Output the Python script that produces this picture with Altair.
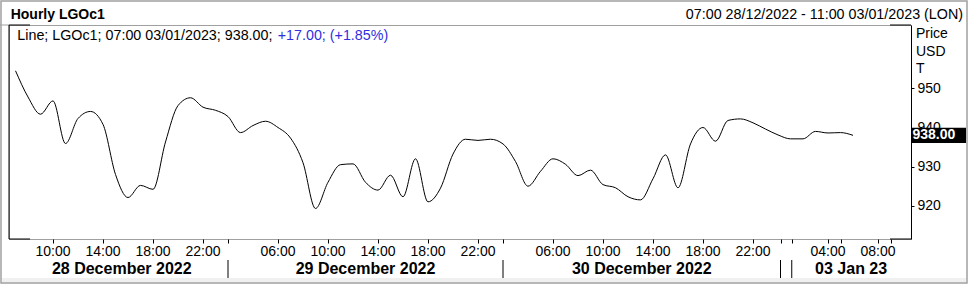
import altair as alt
import pandas as pd

# ---------------- data ----------------
# hourly closes of LGOc1, first bar 07:00 28/12/2022, last bar 07:00 03/01/2023
price = [954.5, 947.8, 943.4, 946.8, 935.9, 942.3, 944.1, 940.8, 928.0, 922.1,
         925.2, 924.2, 936.3, 945.6, 947.6, 945.2, 944.4, 942.8, 938.7, 940.5,
         941.6, 940.0, 937.3, 931.0, 919.3, 926.0, 930.5, 930.7, 926.0, 924.0,
         927.8, 922.3, 932.0, 921.0, 924.5, 933.2, 937.0, 936.7, 937.0, 935.8,
         931.3, 925.0, 928.8, 932.0, 930.6, 927.7, 929.1, 925.4, 924.6, 922.3,
         921.5, 926.9, 933.0, 924.6, 935.8, 940.0, 936.5, 941.8, 942.2, 941.2,
         939.6, 938.1, 937.1, 937.1, 939.0, 938.6, 938.7, 938.0]
bar_index = list(range(len(price)))

# x-axis: bar index of each labelled hour
tick_idx = [3, 7, 11, 15, 21, 25, 29, 33, 37, 43, 47, 51, 55, 59, 65, 69]
tick_label = ["10:00", "14:00", "18:00", "22:00",
              "06:00", "10:00", "14:00", "18:00", "22:00",
              "06:00", "10:00", "14:00", "18:00", "22:00",
              "04:00", "08:00"]
minor_idx = [66, 70]
sep_idx = [17, 39, 61.2, 62.1]
day_label = ["28 December 2022", "29 December 2022", "30 December 2022", "03 Jan 23"]
day_start = [0, 17, 39, 62.1]
day_end = [17, 39, 61.2, 71.6]

y_ticks = [920, 930, 940, 950]
unit_lines = ["Price", "USD", "T"]

title_text = "Hourly LGOc1"
range_text = "07:00 28/12/2022 - 11:00 03/01/2023 (LON)"
ric = "LGOc1"
last_time = "07:00 03/01/2023"
last_price = 938.00
change_abs = 17.00
change_pct = 1.85

# ---------------- layout ----------------
W, H = 902, 214
FONT = "Liberation Sans"
x_scale = alt.Scale(domain=[-0.52, 71.64], nice=False, zero=False)
y_scale = alt.Scale(domain=[911.5, 966.2], nice=False, zero=False)
x_axis = alt.Axis(values=tick_idx + minor_idx + sep_idx, labels=False, domain=False,
                  grid=False, ticks=True, tickSize=4, tickColor="black", title=None)
y_axis = alt.Axis(orient="right", values=y_ticks, grid=False, domain=True,
                  domainColor="black", tickColor="black", tickSize=3, labelPadding=3,
                  labelFont=FONT, labelFontSize=14, labelColor="black", title=None)


def X(field):
    return alt.X(field, type="quantitative", scale=x_scale, axis=x_axis)


def Y(field):
    return alt.Y(field, type="quantitative", scale=y_scale, axis=y_axis)


line_df = pd.DataFrame({"idx": bar_index, "price": price})
last_df = pd.DataFrame({"idx": [bar_index[-1]], "price": [price[-1]]})
tick_df = pd.DataFrame({"idx": tick_idx, "label": tick_label})
sep_df = pd.DataFrame({"idx": sep_idx})
day_df = pd.DataFrame({"label": day_label, "start": day_start, "end": day_end})
one = pd.DataFrame({"a": [0]})

frame = alt.Chart(one).mark_rect(fillOpacity=0, stroke="#a0a0a0", strokeWidth=1.5).encode(
    x=alt.value(-8), x2=alt.value(958), y=alt.value(-24), y2=alt.value(258))
band = alt.Chart(one).mark_rect(fill="#f0f0f0").encode(
    x=alt.value(-7), x2=alt.value(957), y=alt.value(253), y2=alt.value(257))
top_rule = alt.Chart(one).mark_rule(color="#a0a0a0").encode(
    x=alt.value(-9), x2=alt.value(0), y=alt.value(0))
left_rule = alt.Chart(one).mark_rule(color="black").encode(
    x=alt.value(0), y=alt.value(0), y2=alt.value(H))
corners = [
    alt.Chart(one).mark_rule(color="black").encode(x=alt.value(0), x2=alt.value(21), y=alt.value(0)),
    alt.Chart(one).mark_rule(color="black").encode(x=alt.value(0), x2=alt.value(21), y=alt.value(H)),
    alt.Chart(one).mark_rule(color="black").encode(x=alt.value(W - 21), x2=alt.value(W), y=alt.value(0)),
    alt.Chart(one).mark_rule(color="black").encode(x=alt.value(W - 21), x2=alt.value(W), y=alt.value(H)),
]

line = alt.Chart(line_df).mark_line(color="black", strokeWidth=1, interpolate="monotone").encode(
    x=X("idx"), y=Y("price"))

box = alt.Chart(last_df).mark_point(
    shape="M-1,-0.28L1,-0.28L1,0.28L-1,0.28Z", size=55 * 55, filled=True,
    color="black", opacity=1, strokeWidth=0).encode(
    x=alt.value(929.5), y=Y("price"))
box_text = alt.Chart(last_df).mark_text(
    align="left", baseline="middle", color="white", fontWeight="bold", fontSize=14, font=FONT).encode(
    x=alt.value(903.5), y=Y("price"), text=alt.Text("price:Q", format=".2f"))

hour_text = alt.Chart(tick_df).mark_text(
    baseline="alphabetic", align="center", fontSize=14, font=FONT, color="black").encode(
    x=X("idx"), y=alt.value(230.5), text="label:N")

sep_rules = alt.Chart(sep_df).mark_rule(color="black", strokeWidth=1).encode(
    x=X("idx"), y=alt.value(235), y2=alt.value(253))

day_text = alt.Chart(day_df).transform_calculate(
    idx="(datum.start + datum.end) / 2").mark_text(
    baseline="alphabetic", align="center", fontSize=16, fontWeight="bold", font=FONT, color="black").encode(
    x=X("idx"), y=alt.value(249), text="label:N")

unit_layers = [
    alt.Chart(one).mark_text(baseline="alphabetic", align="left", fontSize=14, font=FONT,
                             color="black").encode(
        x=alt.value(907), y=alt.value(13.3 + i * 17.4), text=alt.value(t))
    for i, t in enumerate(unit_lines)
]

title = alt.Chart(one).mark_text(
    baseline="alphabetic", align="left", fontSize=14, fontWeight="bold", font=FONT, color="black").encode(
    x=alt.value(1.7), y=alt.value(-6), text=alt.value(title_text))
range_lbl = alt.Chart(one).mark_text(
    baseline="alphabetic", align="right", fontSize=14.3, font=FONT, color="black").encode(
    x=alt.value(954), y=alt.value(-6.5), text=alt.value(range_text))

info_black = f"Line; {ric}; {last_time}; {last_price:.2f}; "
info_blue = f"{change_abs:+.2f}; ({change_pct:+.2f}%)"
info1 = alt.Chart(one).mark_text(
    baseline="alphabetic", align="left", fontSize=14.3, font=FONT, color="black").encode(
    x=alt.value(8.3), y=alt.value(15), text=alt.value(info_black))
info2 = alt.Chart(one).mark_text(
    baseline="alphabetic", align="left", fontSize=14.3, font=FONT, color="#2f2fe0").encode(
    x=alt.value(268.7), y=alt.value(15), text=alt.value(info_blue))

chart = alt.layer(
    frame, band, top_rule, *corners, line, left_rule, box, box_text,
    hour_text, sep_rules, day_text, *unit_layers, title, range_lbl, info1, info2
).properties(
    width=W, height=H,
    padding={"left": 9, "top": 25, "right": 58, "bottom": 46},
    autosize=alt.AutoSizeParams(type="none"),
    background="white",
).configure_view(stroke="#a0a0a0", strokeWidth=1)

chart.save("out.html", embed_options={"renderer": "svg", "actions": False})
